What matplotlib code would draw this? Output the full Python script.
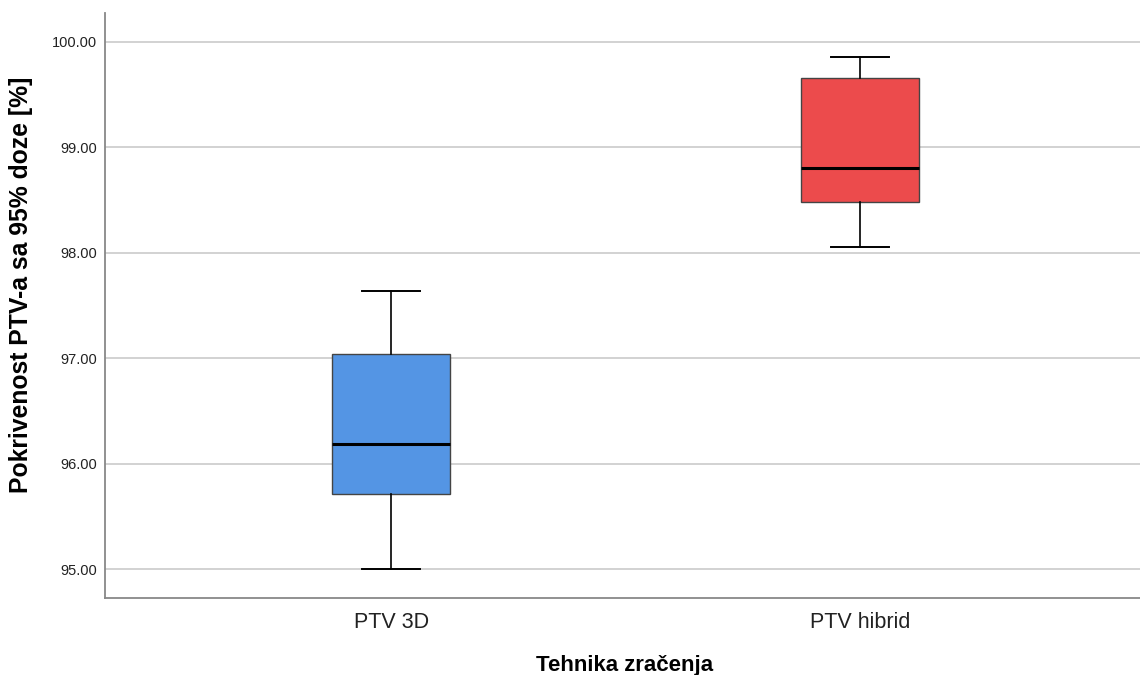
import matplotlib
matplotlib.use("Agg")
import matplotlib.pyplot as plt

plt.rcParams['font.family'] = ['Liberation Sans', 'DejaVu Sans']

# Box summary per irradiation technique
categories = ["PTV 3D", "PTV hibrid"]
whisker_low = [95.00, 98.05]
q1 = [95.71, 98.48]
median = [96.19, 98.80]
q3 = [97.04, 99.66]
whisker_high = [97.64, 99.86]
box_colors = ["#5495E4", "#EC4B4C"]

y_ticks = [95.0, 96.0, 97.0, 98.0, 99.0, 100.0]

fig = plt.figure(figsize=(11.4, 6.75), dpi=100)
ax = fig.add_axes([0.0921, 0.114, 0.9079, 0.867])

stats = []
for i, name in enumerate(categories):
    stats.append(dict(label=name, whislo=whisker_low[i], q1=q1[i], med=median[i],
                      q3=q3[i], whishi=whisker_high[i], fliers=[]))

positions = list(range(1, len(categories) + 1))
bp = ax.bxp(stats, positions=positions, widths=0.25, patch_artist=True,
            showfliers=False,
            boxprops=dict(edgecolor="#444444", linewidth=1.0),
            medianprops=dict(color="black", linewidth=2.2),
            whiskerprops=dict(color="black", linewidth=1.2),
            capprops=dict(color="black", linewidth=1.4),
            capwidths=0.124, zorder=3)
for patch, c in zip(bp["boxes"], box_colors):
    patch.set_facecolor(c)

ax.set_xlim(0.39, 2.597)
ax.set_ylim(94.725, 100.275)
ax.set_yticks(y_ticks)
ax.set_yticklabels([f"{v:.2f}" for v in y_ticks])
ax.set_xticks(positions)
ax.set_xticklabels(categories)

ax.yaxis.grid(True, color="#CFCFCF", linewidth=1.3, zorder=0)
ax.set_axisbelow(True)
ax.tick_params(axis="y", length=0, pad=6, labelsize=10.5, labelcolor="#222222")
ax.tick_params(axis="x", length=0, pad=10, labelsize=15.5, labelcolor="#222222")

for side in ("top", "right"):
    ax.spines[side].set_visible(False)
for side in ("left", "bottom"):
    ax.spines[side].set_color("#888888")
    ax.spines[side].set_linewidth(1.3)

ax.set_ylabel("Pokrivenost PTV-a sa 95% doze [%]", fontsize=17.8, fontweight="bold")
ax.set_xlabel("Tehnika zračenja", fontsize=16, fontweight="bold")
ax.yaxis.set_label_coords(-0.0696, 0.535)
ax.xaxis.set_label_coords(0.5017, -0.097)

fig.savefig("out.png", dpi=100)
